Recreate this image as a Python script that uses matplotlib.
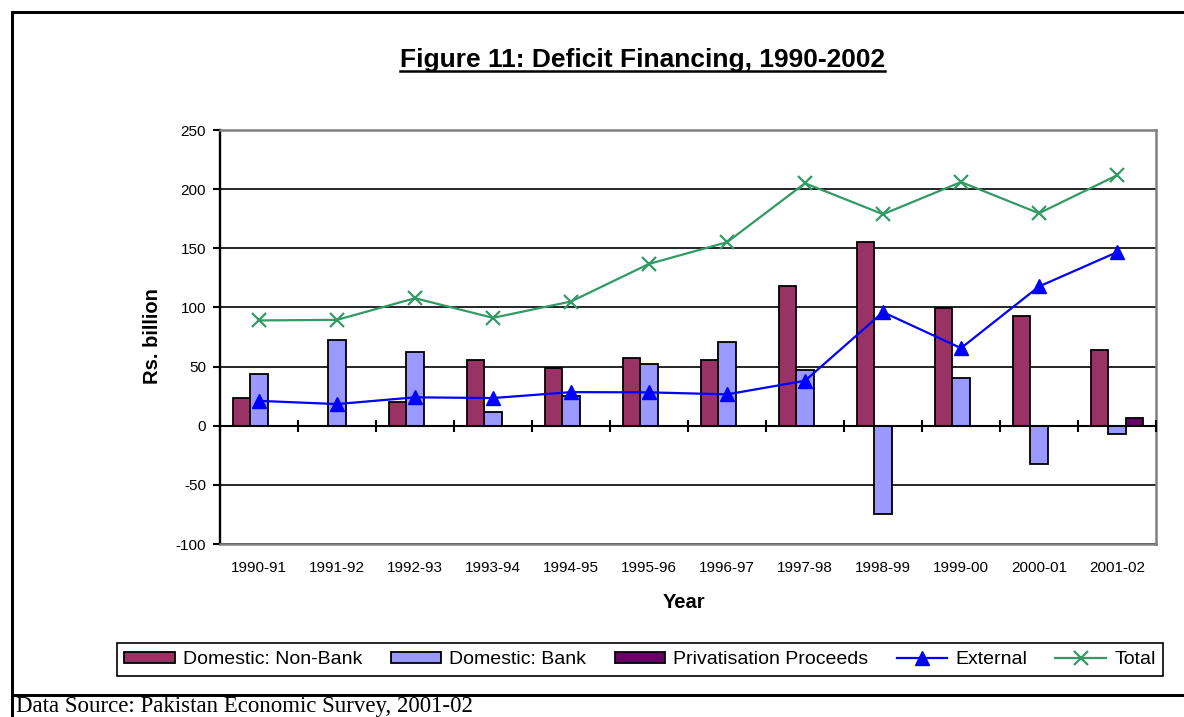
import numpy as np
import matplotlib
matplotlib.use("Agg")
import matplotlib.pyplot as plt
from matplotlib.lines import Line2D

# Deficit financing by source, Rs. billion
years = ["1990-91", "1991-92", "1992-93", "1993-94", "1994-95", "1995-96",
         "1996-97", "1997-98", "1998-99", "1999-00", "2000-01", "2001-02"]
non_bank = [23.4, 0.0, 20.0, 55.5, 48.7, 57.2, 55.5, 118.0, 155.1, 99.4, 92.6, 63.9]
bank = [43.6, 72.4, 62.2, 11.3, 25.3, 52.1, 70.7, 47.0, -74.6, 40.3, -32.4, -7.0]
privatisation = [np.nan] * 11 + [6.5]
external = [21.0, 18.3, 24.0, 23.4, 28.4, 28.2, 26.5, 38.0, 96.0, 65.6, 117.7, 146.7]
total = [89.0, 89.5, 107.8, 91.2, 105.0, 136.8, 155.1, 205.0, 178.8, 206.0, 179.6, 211.7]
y_ticks = [-100, -50, 0, 50, 100, 150, 200, 250]

plt.rcParams["font.family"] = ["Liberation Sans", "DejaVu Sans"]
plt.rcParams["axes.unicode_minus"] = False

W, H = 1184, 717
fig = plt.figure(figsize=(W / 100, H / 100), dpi=100)
fig.patch.set_facecolor("white")

ax = fig.add_axes([220 / W, 1 - 544 / H, (1156 - 220) / W, (544 - 130) / H])
x = np.arange(len(years))
w = 0.222

ax.set_axisbelow(True)
ax.yaxis.grid(True, color="black", linewidth=1.2)

b1 = ax.bar(x - w, non_bank, w, color="#993366", edgecolor="black", linewidth=1.3,
            label="Domestic: Non-Bank", zorder=2)
b2 = ax.bar(x, bank, w, color="#9999FF", edgecolor="black", linewidth=1.3,
            label="Domestic: Bank", zorder=2)
b3 = ax.bar(x + w, privatisation, w, color="#660066", edgecolor="black", linewidth=1.3,
            label="Privatisation Proceeds", zorder=2)

# horizontal category axis at zero with crossing tick marks between categories
ax.axhline(0, color="black", linewidth=1.5, zorder=2.6)
bounds = np.arange(len(years) + 1) - 0.5
ax.plot(bounds, np.zeros_like(bounds), linestyle="none", marker="|", markersize=8,
        markeredgewidth=1.5, color="black", clip_on=False, zorder=2.7)

l1, = ax.plot(x, external, color="#0000FF", linewidth=1.6, marker="^", markersize=10.5,
              label="External", zorder=4)
l2, = ax.plot(x, total, color="#339966", linewidth=1.6, marker="x", markersize=9.5,
              markeredgewidth=1.6, label="Total", zorder=4)

ax.set_xlim(-0.5, len(years) - 0.5)
ax.set_ylim(-100, 250)
ax.set_yticks(y_ticks)
ax.set_xticks(x, years)
ax.tick_params(axis="y", direction="out", length=5, width=1.5, pad=5, labelsize=11,
               colors="black")
ax.tick_params(axis="x", length=0, pad=12, labelsize=11)

for side in ("top", "right", "bottom"):
    ax.spines[side].set_color("#808080")
    ax.spines[side].set_linewidth(1.8)
ax.spines["left"].set_color("black")
ax.spines["left"].set_linewidth(1.7)

fig.text(152 / W, 1 - 336 / H, "Rs. billion", rotation=90, ha="center", va="center",
         fontsize=14.5, fontweight="bold")
fig.text(684 / W, 1 - 603 / H, "Year", ha="center", va="center",
         fontsize=14.5, fontweight="bold")

title = fig.text(642.5 / W, 1 - 67 / H, "Figure 11: Deficit Financing, 1990-2002",
                 ha="center", va="baseline", fontsize=19, fontweight="bold")

leg = fig.legend([b1, b2, b3, l1, l2],
                 ["Domestic: Non-Bank", "Domestic: Bank", "Privatisation Proceeds",
                  "External", "Total"],
                 loc="center", bbox_to_anchor=(640 / W, 1 - 659.5 / H), ncol=5,
                 fontsize=14, frameon=True, fancybox=False, edgecolor="black",
                 framealpha=1, handlelength=2.6, handleheight=0.5, handletextpad=0.42,
                 columnspacing=1.45, borderpad=0.4, borderaxespad=0, numpoints=1)
leg.get_frame().set_linewidth(1.2)

fig.text(16 / W, 1 - 712 / H, "Data Source: Pakistan Economic Survey, 2001-02",
         family=["Liberation Serif", "DejaVu Serif"], fontsize=16.5, va="baseline")

# outer page frame
frame_lw = 2.16
fig.add_artist(Line2D([11.5 / W, 1.0], [1 - 11.5 / H] * 2, transform=fig.transFigure,
                      color="black", linewidth=frame_lw, solid_capstyle="projecting"))
fig.add_artist(Line2D([11.5 / W] * 2, [1 - 11.5 / H, 0.0], transform=fig.transFigure,
                      color="black", linewidth=frame_lw, solid_capstyle="projecting"))
fig.add_artist(Line2D([11.5 / W, 1.0], [1 - 694.5 / H] * 2, transform=fig.transFigure,
                      color="black", linewidth=frame_lw))

# underline the title
fig.canvas.draw()
bb = title.get_window_extent()
fig.add_artist(Line2D([bb.x0 / W, bb.x1 / W], [1 - 71 / H] * 2, transform=fig.transFigure,
                      color="black", linewidth=1.8))

fig.savefig("out.png", dpi=100)
